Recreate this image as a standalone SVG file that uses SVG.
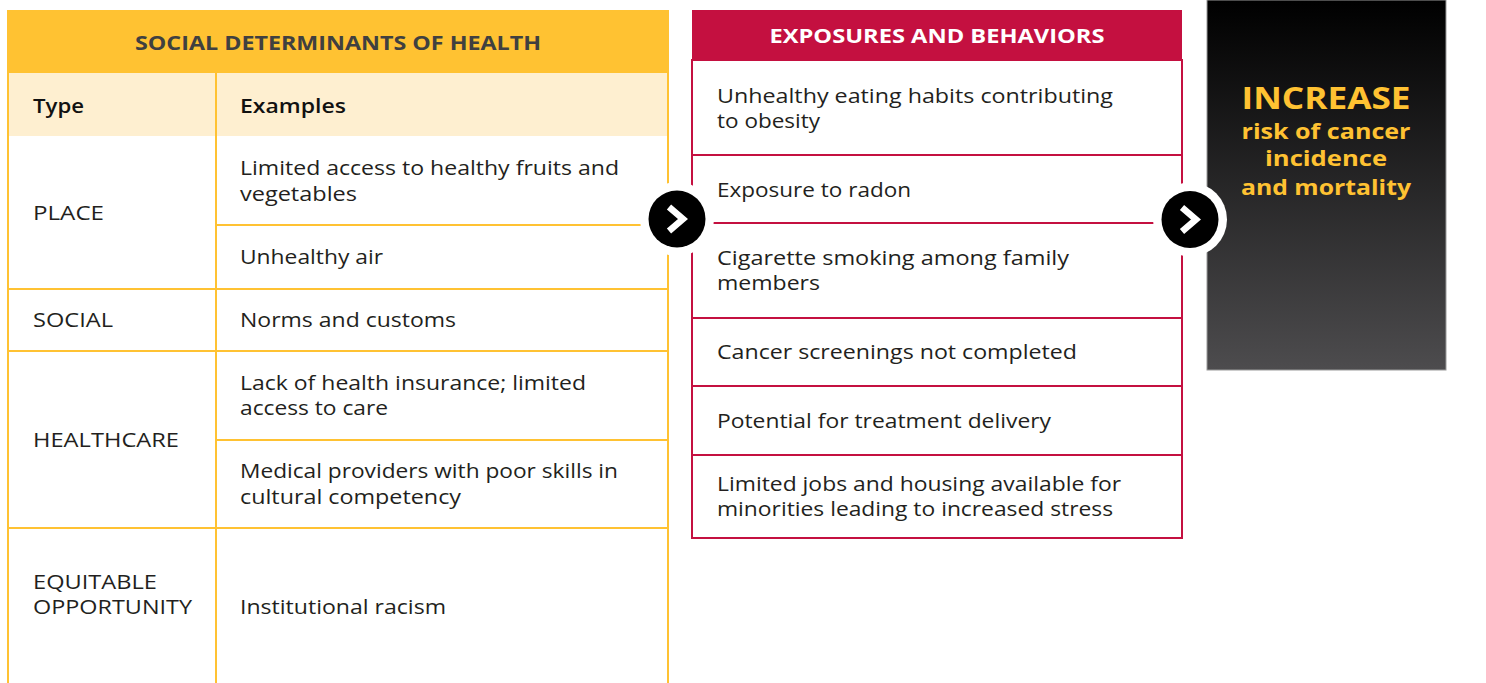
<svg xmlns="http://www.w3.org/2000/svg" width="1486" height="683" viewBox="0 0 1486 683">
<defs>
<linearGradient id="dark" x1="0" y1="0" x2="0" y2="1">
<stop offset="0" stop-color="#000000"/>
<stop offset="1" stop-color="#4d4c4e"/>
</linearGradient>
</defs>
<style>
text{font-family:"Open Sans","Liberation Sans",sans-serif}
.t{font-size:19.5px;fill:#231f20}
.h{font-size:19px;font-weight:700;text-anchor:middle}
.sh{font-size:19.5px;font-weight:600;fill:#111}
.y{stroke:#ffc232;stroke-width:2;fill:none}
.r{stroke:#c41040;stroke-width:2;fill:none}
.o{font-weight:700;fill:#ffc232;text-anchor:middle}
.chev{fill:none;stroke:#fff;stroke-width:6.5;stroke-linecap:butt;stroke-linejoin:miter}
</style>
<rect width="1486" height="683" fill="#fff"/>

<g id="sdoh-table">
<rect x="8" y="10" width="660" height="63" fill="#ffc232"/>
<text class="h" x="338" y="50" fill="#404040" textLength="406" lengthAdjust="spacingAndGlyphs">SOCIAL DETERMINANTS OF HEALTH</text>
<rect x="8" y="73" width="660" height="63" fill="#feefd0"/>
<text class="sh" x="33" y="113" textLength="51" lengthAdjust="spacingAndGlyphs">Type</text>
<text class="sh" x="240" y="113" textLength="106" lengthAdjust="spacingAndGlyphs">Examples</text>
<path class="y" d="M8 10 V683 M668 10 V683 M216 73 V683 M8 289 H668 M8 351 H668 M8 528 H668 M216 225 H668 M216 440 H668"/>
</g>

<g id="row-place">
<text class="t" x="33" y="220" textLength="71" lengthAdjust="spacingAndGlyphs">PLACE</text>
<text class="t" x="240" y="175" textLength="379" lengthAdjust="spacingAndGlyphs">Limited access to healthy fruits and</text>
<text class="t" x="240" y="201" textLength="117" lengthAdjust="spacingAndGlyphs">vegetables</text>
<text class="t" x="240" y="264" textLength="143" lengthAdjust="spacingAndGlyphs">Unhealthy air</text>
</g>
<g id="row-social">
<text class="t" x="33" y="327" textLength="80" lengthAdjust="spacingAndGlyphs">SOCIAL</text>
<text class="t" x="240" y="327" textLength="216" lengthAdjust="spacingAndGlyphs">Norms and customs</text>
</g>
<g id="row-healthcare">
<text class="t" x="33" y="447" textLength="146" lengthAdjust="spacingAndGlyphs">HEALTHCARE</text>
<text class="t" x="240" y="390" textLength="346" lengthAdjust="spacingAndGlyphs">Lack of health insurance; limited</text>
<text class="t" x="240" y="415" textLength="148" lengthAdjust="spacingAndGlyphs">access to care</text>
<text class="t" x="240" y="478" textLength="378" lengthAdjust="spacingAndGlyphs">Medical providers with poor skills in</text>
<text class="t" x="240" y="504" textLength="221" lengthAdjust="spacingAndGlyphs">cultural competency</text>
</g>
<g id="row-equitable">
<text class="t" x="33" y="589" textLength="124" lengthAdjust="spacingAndGlyphs">EQUITABLE</text>
<text class="t" x="33" y="614" textLength="159" lengthAdjust="spacingAndGlyphs">OPPORTUNITY</text>
<text class="t" x="240" y="614" textLength="206" lengthAdjust="spacingAndGlyphs">Institutional racism</text>
</g>

<g id="exposures-table">
<rect x="692" y="10" width="490" height="50" fill="#c41040"/>
<text class="h" x="937" y="43" fill="#fff" textLength="335" lengthAdjust="spacingAndGlyphs">EXPOSURES AND BEHAVIORS</text>
<rect x="692" y="60" width="490" height="478" class="r"/>
<path class="r" d="M692 155 H1182 M692 223 H1182 M692 318 H1182 M692 386 H1182 M692 455 H1182"/>
<text class="t" x="717" y="103" textLength="396" lengthAdjust="spacingAndGlyphs">Unhealthy eating habits contributing</text>
<text class="t" x="717" y="128" textLength="103" lengthAdjust="spacingAndGlyphs">to obesity</text>
<text class="t" x="717" y="197" textLength="194" lengthAdjust="spacingAndGlyphs">Exposure to radon</text>
<text class="t" x="717" y="265" textLength="352" lengthAdjust="spacingAndGlyphs">Cigarette smoking among family</text>
<text class="t" x="717" y="290" textLength="103" lengthAdjust="spacingAndGlyphs">members</text>
<text class="t" x="717" y="359" textLength="360" lengthAdjust="spacingAndGlyphs">Cancer screenings not completed</text>
<text class="t" x="717" y="428" textLength="334" lengthAdjust="spacingAndGlyphs">Potential for treatment delivery</text>
<text class="t" x="717" y="491" textLength="404" lengthAdjust="spacingAndGlyphs">Limited jobs and housing available for</text>
<text class="t" x="717" y="516" textLength="396" lengthAdjust="spacingAndGlyphs">minorities leading to increased stress</text>
</g>

<g id="outcome">
<rect x="1207" y="0" width="239" height="370" fill="url(#dark)" stroke="#9a9a9a" stroke-width="1"/>
<text class="o" x="1326" y="108.5" font-size="30.5" textLength="169" lengthAdjust="spacingAndGlyphs">INCREASE</text>
<text class="o" x="1326" y="138.5" font-size="22" textLength="169" lengthAdjust="spacingAndGlyphs">risk of cancer</text>
<text class="o" x="1326" y="166" font-size="22" textLength="122" lengthAdjust="spacingAndGlyphs">incidence</text>
<text class="o" x="1326" y="195" font-size="22" textLength="170" lengthAdjust="spacingAndGlyphs">and mortality</text>
</g>

<g id="connectors">
<g id="arrow-1">
<circle cx="677" cy="219" r="37" fill="#fff"/>
<circle cx="677" cy="219" r="28.5" fill="#000"/>
<polyline class="chev" points="669,207 683,219 669,231"/>
</g>
<g id="arrow-2">
<circle cx="1190" cy="219.5" r="37" fill="#fff"/>
<circle cx="1190" cy="219.5" r="28.5" fill="#000"/>
<polyline class="chev" points="1182,207.5 1196,219.5 1182,231.5"/>
</g>
</g>
</svg>
